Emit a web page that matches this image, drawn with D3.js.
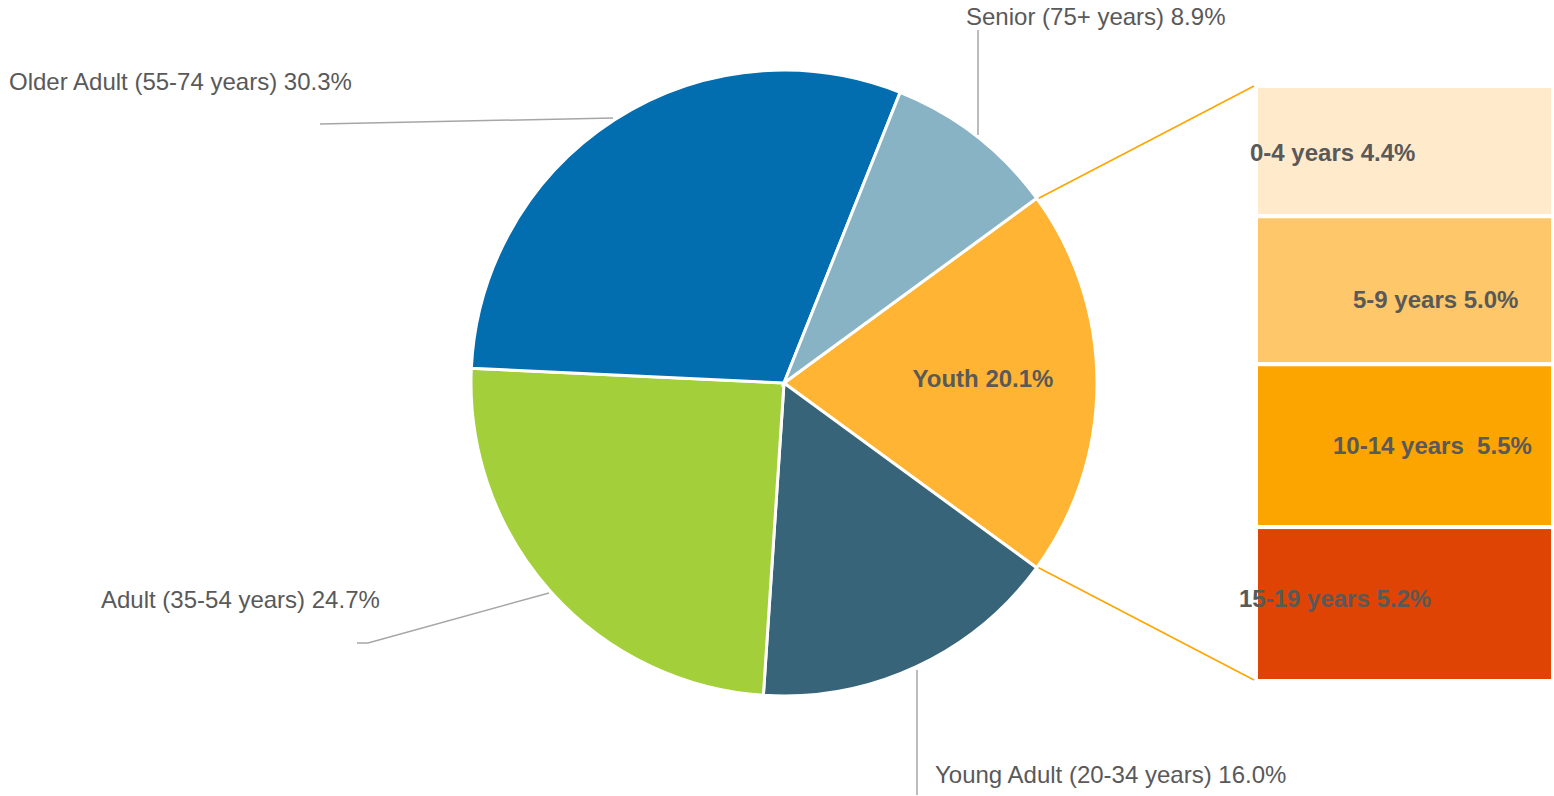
<!DOCTYPE html>
<html>
<head>
<meta charset="utf-8">
<script src="https://cdn.jsdelivr.net/npm/d3@7"></script>
<style>
  body { margin:0; background:#fff; }
  svg text { font-family: "Liberation Sans", Arial, sans-serif; }
</style>
</head>
<body>
<div id="chart"></div>
<script>
// pie groups, clockwise starting with Youth
const groups  = ["Youth", "Young Adult (20-34 years)", "Adult (35-54 years)", "Older Adult (55-74 years)", "Senior (75+ years)"]
const shares  = [20.1, 16.0, 24.7, 30.3, 8.9]
const colors  = ["#FFB533", "#376478", "#A3D03A", "#026DAF", "#87B3C5"]

// youth breakdown, top to bottom
const youthAges   = ["0-4 years", "5-9 years", "10-14 years ", "15-19 years"]
const youthShares = [4.4, 5.0, 5.5, 5.2]
const youthColors = ["#FFEBCC", "#FDC76A", "#FCA400", "#DF4405"]

const W = 1554, H = 796
const cx = 784, cy = 383, R = 313
const grey = "#595959"
const fs = "24px"

const svg = d3.select("#chart").append("svg")
  .attr("width", W).attr("height", H)

const youthAngle = shares[0] / d3.sum(shares) * 2 * Math.PI
const start = Math.PI/2 - youthAngle/2

const pie = d3.pie().sort(null).value(d => d)
  .startAngle(start).endAngle(start + 2*Math.PI)
const arcs = pie(shares)
const arc = d3.arc().innerRadius(0).outerRadius(R)

const g = svg.append("g").attr("transform", "translate(" + cx + "," + cy + ")")
g.selectAll("path")
  .data(arcs)
  .enter()
  .append("path")
  .attr("d", arc)
  .attr("fill", (d,i) => colors[i])
  .attr("stroke", "#fff")
  .attr("stroke-width", 3)

// youth label inside slice
g.append("text")
  .attr("x", 199).attr("y", -2)
  .attr("text-anchor", "middle")
  .attr("dominant-baseline", "middle")
  .style("font-size", fs).style("font-weight", "bold")
  .attr("fill", grey)
  .text(groups[0] + " " + shares[0].toFixed(1) + "%")

// stacked bar for youth
const barX0 = 1256, barX1 = 1553, barTop = 86, barBot = 681
const yb = d3.scaleLinear().domain([0, d3.sum(youthShares)]).range([barTop, barBot])
const cum = d3.cumsum(youthShares)
const segs = youthShares.map((v,i) => ({v:v, a:cum[i]-v, b:cum[i], i:i}))

svg.selectAll("rect.seg")
  .data(segs)
  .enter()
  .append("rect")
  .attr("class", "seg")
  .attr("x", barX0)
  .attr("width", barX1 - barX0)
  .attr("y", d => yb(d.a))
  .attr("height", d => yb(d.b) - yb(d.a))
  .attr("fill", d => youthColors[d.i])
  .attr("stroke", "#fff")
  .attr("stroke-width", 4)

// bar labels (placement as in the original)
const labX = [1250, 1353, 1333, 1239]
const labY = [155, 302, 448, 601]
svg.selectAll("text.seg")
  .data(segs)
  .enter()
  .append("text")
  .attr("class", "seg")
  .attr("x", d => labX[d.i])
  .attr("y", d => labY[d.i])
  .attr("dominant-baseline", "middle")
  .attr("xml:space", "preserve")
  .style("font-size", fs).style("font-weight", "bold")
  .attr("fill", grey)
  .text(d => youthAges[d.i] + " " + d.v.toFixed(1) + "%")

// orange connectors from youth slice edges to bar
const ys = arcs[0]
const p0 = [cx + R*Math.sin(ys.startAngle), cy - R*Math.cos(ys.startAngle)]
const p1 = [cx + R*Math.sin(ys.endAngle), cy - R*Math.cos(ys.endAngle)]
svg.append("line")
  .attr("x1", p0[0]+2).attr("y1", p0[1]).attr("x2", barX0-2).attr("y2", barTop)
  .attr("stroke", "#FFA500").attr("stroke-width", 1.6)
svg.append("line")
  .attr("x1", p1[0]+2).attr("y1", p1[1]).attr("x2", barX0-2).attr("y2", barBot-1)
  .attr("stroke", "#FFA500").attr("stroke-width", 1.6)

// outer labels with leader lines
const outer = [
  {i:1, pts:[[917,670],[917,795]], tx:935, ty:777},
  {i:2, pts:[[549,593],[368,643],[357,643]], tx:101, ty:602},
  {i:3, pts:[[613,118],[320,124]], tx:9, ty:84},
  {i:4, pts:[[978,135],[978,30]], tx:966, ty:19}
]
svg.selectAll("path.lead")
  .data(outer)
  .enter()
  .append("path")
  .attr("class", "lead")
  .attr("d", d => d3.line()(d.pts))
  .attr("fill", "none")
  .attr("stroke", "#A6A6A6")
  .attr("stroke-width", 1.5)

svg.selectAll("text.outer")
  .data(outer)
  .enter()
  .append("text")
  .attr("class", "outer")
  .attr("x", d => d.tx)
  .attr("y", d => d.ty)
  .attr("dominant-baseline", "middle")
  .style("font-size", fs)
  .attr("fill", grey)
  .text(d => groups[d.i] + " " + shares[d.i].toFixed(1) + "%")
</script>
</body>
</html>
